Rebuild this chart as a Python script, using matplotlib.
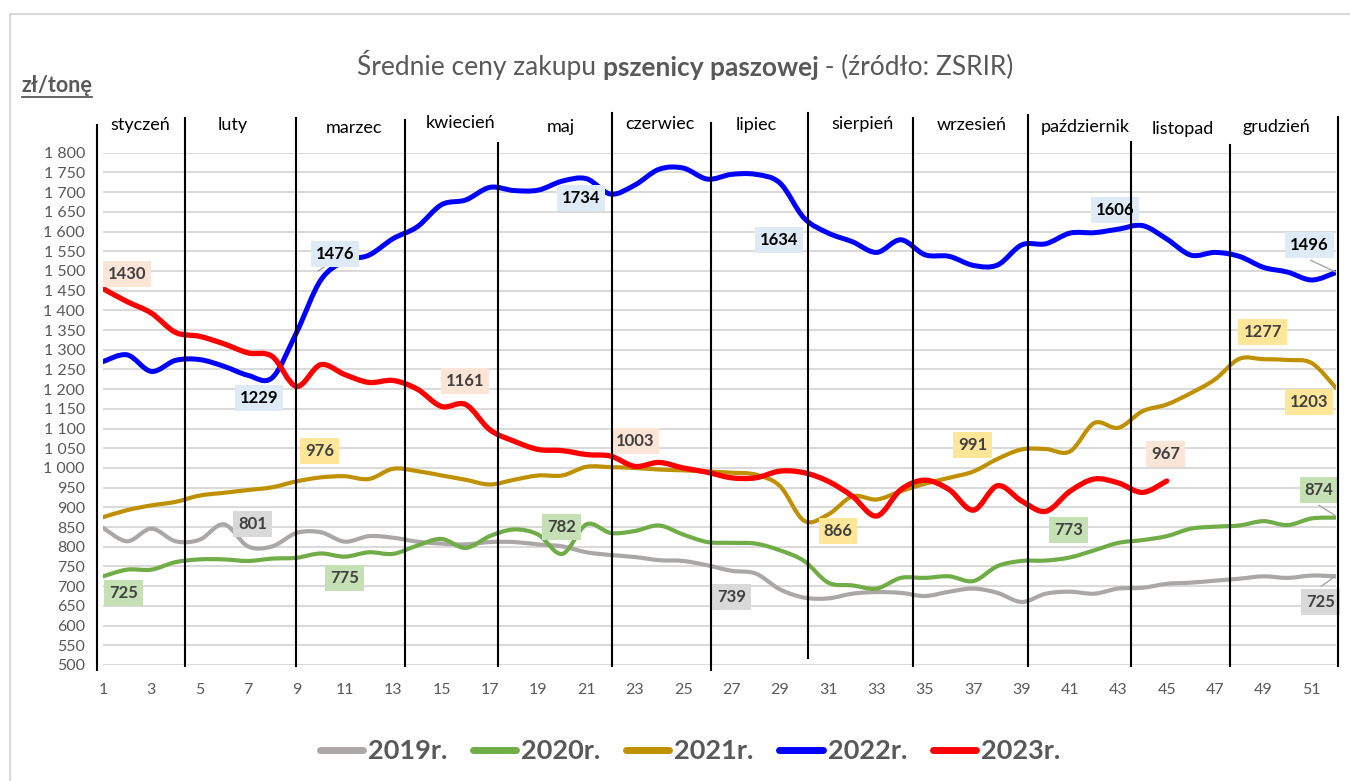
import numpy as np
import matplotlib.pyplot as plt
from matplotlib.path import Path
from matplotlib.patches import PathPatch
from matplotlib.lines import Line2D

plt.rcParams['font.family'] = ['Lato', 'DejaVu Sans']

# ---------------- DATA ----------------

weeks = np.arange(1, 53)

y2019 = [848, 814, 846, 814, 818, 857, 801, 801, 835, 837,
         813, 827, 823, 813, 808, 806, 812, 812, 806, 801,
         786, 779, 774, 766, 764, 753, 739, 732, 692, 671,
         669, 681, 685, 683, 675, 686, 694, 683, 660, 681,
         686, 681, 694, 696, 706, 709, 714, 719, 725, 721,
         727, 725]
y2020 = [725, 742, 742, 761, 768, 768, 764, 770, 772, 783,
         775, 786, 782, 803, 820, 797, 827, 844, 831, 782,
         857, 835, 840, 854, 831, 812, 810, 808, 791, 764,
         709, 702, 694, 721, 721, 725, 713, 751, 764, 765,
         773, 791, 810, 817, 827, 846, 851, 854, 865, 855,
         872, 874]
y2021 = [875, 893, 905, 914, 930, 937, 944, 951, 966, 976,
         979, 972, 998, 992, 981, 970, 958, 970, 981, 981,
         1003, 1002, 1000, 996, 994, 991, 988, 983, 954, 866,
         882, 928, 920, 941, 960, 975, 991, 1023, 1047, 1048,
         1042, 1114, 1102, 1144, 1161, 1190, 1225, 1277, 1276, 1274,
         1266, 1203]
y2022 = [1270, 1287, 1245, 1273, 1275, 1258, 1235, 1229, 1343, 1476,
         1525, 1540, 1582, 1612, 1668, 1680, 1712, 1704, 1705, 1728,
         1734, 1695, 1718, 1758, 1761, 1733, 1745, 1745, 1723, 1634,
         1596, 1574, 1547, 1579, 1541, 1537, 1514, 1515, 1566, 1569,
         1596, 1597, 1606, 1615, 1581, 1540, 1547, 1537, 1509, 1497,
         1477, 1496]
y2023 = [1455, 1422, 1393, 1344, 1334, 1315, 1292, 1283, 1207, 1262,
         1237, 1217, 1222, 1200, 1156, 1161, 1097, 1068, 1047, 1044,
         1034, 1030, 1004, 1014, 1000, 989, 975, 975, 992, 988,
         966, 928, 878, 945, 969, 945, 893, 955, 916, 890,
         941, 972, 962, 938, 967]

series_names = ["2019r.", "2020r.", "2021r.", "2022r.", "2023r."]
months = ["styczeń", "luty", "marzec", "kwiecień", "maj", "czerwiec", "lipiec",
          "sierpień", "wrzesień", "październik", "listopad", "grudzień"]

# labelled values per series (text shown in the boxes)
labels2019 = ["801", "739", "725"]
labels2020 = ["725", "775", "782", "773", "874"]
labels2021 = ["976", "866", "991", "1277", "1203"]
labels2022 = ["1229", "1476", "1734", "1634", "1606", "1496"]
labels2023 = ["1430", "1161", "1003", "967"]

# ---------------- LAYOUT ----------------

colors = ["#ABA7A7", "#70AD47", "#BF9000", "#0000FF", "#FF0000"]
widths = [3.0, 3.0, 3.0, 3.6, 3.8]
box_colors = ["#D9D9D9", "#C5E0B4", "#FFE699", "#DEEBF7", "#FBE5D6"]
text_colors = ["#404040", "#404040", "#404040", "#000000", "#404040"]

pos2019 = [(7.2, 859), (27.0, 673), (51.35, 661)]
pos2020 = [(1.85, 682), (11.0, 722), (19.98, 851), (40.95, 843), (51.3, 945)]
pos2021 = [(9.97, 1044), (31.4, 839), (36.98, 1059), (48.97, 1346), (50.88, 1168)]
pos2022 = [(7.45, 1178), (10.6, 1543), (20.77, 1685), (28.96, 1579), (42.85, 1655), (50.9, 1566)]
pos2023 = [(2.0, 1491), (15.97, 1221), (23.0, 1069), (44.96, 1036)]

div_x = [0.75, 4.39, 8.98, 13.49, 17.34, 22.05, 26.14, 30.16, 34.5, 39.25, 43.51, 47.6, 52.07]
div_top = [1870, 1888, 1888, 1883, 1825, 1900, 1875, 1900, 1888, 1895, 1827, 1820, 1890]
div_bot = [488, 497, 497, 497, 497, 497, 488, 517, 497, 497, 497, 497, 497]
month_x = [2.53, 6.37, 11.38, 15.8, 19.94, 24.03, 28.0, 32.43, 36.94, 41.61, 45.67, 49.55]
month_y = [1870, 1870, 1862, 1875, 1865, 1872, 1870, 1872, 1870, 1865, 1860, 1865]


def smooth_path(x, y):
    # Bezier path through the points (like Excel's smoothed line)
    x = np.asarray(x, float)
    y = np.asarray(y, float)
    n = len(x)
    verts = [(x[0], y[0])]
    codes = [Path.MOVETO]
    for i in range(n - 1):
        a = max(i - 1, 0)
        b = min(i + 2, n - 1)
        c1 = (x[i] + (x[i + 1] - x[a]) / 6, y[i] + (y[i + 1] - y[a]) / 6)
        c2 = (x[i + 1] - (x[b] - x[i]) / 6, y[i + 1] - (y[b] - y[i]) / 6)
        verts += [c1, c2, (x[i + 1], y[i + 1])]
        codes += [Path.CURVE4] * 3
    return Path(verts, codes)


# ---------------- FIGURE ----------------

fig = plt.figure(figsize=(13.5, 7.81), dpi=100)
ax = fig.add_axes([103 / 1350, 1 - 665 / 781, 1233 / 1350, (665 - 152.7) / 781])

ax.set_xlim(1, 52)
ax.set_ylim(500, 1800)
for s in ax.spines.values():
    s.set_visible(False)

yt = np.arange(500, 1801, 50)
ax.set_yticks(yt)
ax.set_yticklabels([f"{v:,}".replace(",", " ") for v in yt])
ax.set_xticks(np.arange(1, 52, 2))
ax.tick_params(length=0, labelsize=11.5, labelcolor="#595959")
ax.tick_params(axis="y", pad=13)
ax.tick_params(axis="x", pad=13)

for v in yt:
    ax.plot([1, 52], [v, v], color="#D9D9D9", lw=1.4, zorder=1, solid_capstyle="butt")

all_series = [y2019, y2020, y2021, y2022, y2023]
for i, ys in enumerate(all_series):
    p = smooth_path(weeks[:len(ys)], ys)
    ax.add_patch(PathPatch(p, fc="none", ec=colors[i], lw=widths[i],
                           capstyle="round", joinstyle="round", zorder=2 + i))

all_labels = [labels2019, labels2020, labels2021, labels2022, labels2023]
all_pos = [pos2019, pos2020, pos2021, pos2022, pos2023]
for i in range(5):
    for txt, (px, py) in zip(all_labels[i], all_pos[i]):
        ax.text(px, py, txt, ha="center", va="center", fontsize=12, fontweight="bold",
                color=text_colors[i], zorder=10,
                bbox=dict(boxstyle="square,pad=0.3", fc=box_colors[i], ec="none"))

# leader lines
for (x0, y0), (x1, y1) in [((50.95, 1527), (52, 1497)), ((51.3, 905), (52, 878)),
                           ((51.4, 700), (52, 727)), ((9.9, 1500), (10.4, 1520))]:
    ax.plot([x0, x1], [y0, y1], color="#A6A6A6", lw=1.0, zorder=9)

# month dividers and names
for x, t, b in zip(div_x, div_top, div_bot):
    ax.plot([x, x], [b, t], color="black", lw=1.5, zorder=12, clip_on=False)
for m, x, y in zip(months, month_x, month_y):
    ax.text(x, y, m, ha="center", va="center", fontsize=13, color="#000000", clip_on=False)

# ---------------- TEXTS ----------------

t1 = fig.text(357 / 1350, 1 - 65 / 781, "Średnie ceny zakupu ", fontsize=19,
              color="#595959", ha="left", va="center")
t2 = ax.annotate("pszenicy paszowej", xy=(1, 0), xycoords=t1, va="bottom",
                 fontsize=19, fontweight="bold", color="#595959")
ax.annotate(" - (źródło: ZSRIR)", xy=(1, 0), xycoords=t2, va="bottom",
            fontsize=19, color="#595959")

fig.text(22 / 1350, 1 - 86 / 781, "zł/tonę", fontsize=15.5, fontweight="bold",
         color="#595959", ha="left", va="center")
fig.add_artist(Line2D([22 / 1350, 92 / 1350], [1 - 97 / 781, 1 - 97 / 781],
                      color="#595959", lw=1.3))

# chart frame
fig.add_artist(Line2D([10 / 1350, 10 / 1350], [0, 1 - 14 / 781], color="#D9D9D9", lw=1.5))
fig.add_artist(Line2D([10 / 1350, 1], [1 - 14 / 781, 1 - 14 / 781], color="#D9D9D9", lw=1.5))

handles = [Line2D([], [], color=c, lw=5, solid_capstyle="round") for c in colors]
fig.legend(handles, series_names, loc="center", bbox_to_anchor=(0.511, 1 - 751 / 781),
           ncol=5, frameon=False, handlelength=1.6, handletextpad=0.18, columnspacing=0.95,
           prop=dict(weight="bold", size=19.5), labelcolor="#595959")

fig.savefig("out.png", dpi=100)
